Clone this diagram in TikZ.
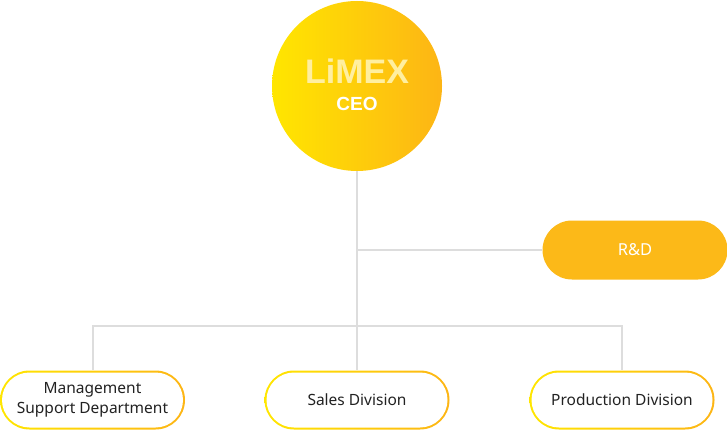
\documentclass[tikz,border=0pt]{standalone}
\usepackage{fontspec}
\setmainfont{Noto Sans}
\newfontfamily\headfont{Liberation Sans}
\usepackage{xcolor}
\usepackage{tikz}
\usetikzlibrary{positioning, calc}
\definecolor{limeyellow}{HTML}{FFE600}
\definecolor{limeorange}{HTML}{FDB515}
\definecolor{rdorange}{HTML}{FCB918}
\definecolor{logocream}{HTML}{FFEFA0}
\definecolor{linkgray}{HTML}{DDDDDD}
\definecolor{textdark}{HTML}{222222}

\begin{document}
\begin{tikzpicture}[x=1pt,y=-1pt,
	head node/.style={circle,minimum size=170pt,inner sep=0pt,left color=limeyellow,right color=limeorange},
	unit node/.style={rectangle,rounded corners=29.5pt,minimum width=185pt,minimum height=59pt,inner sep=0pt,
		align=center,text=textdark,font=\fontsize{15.5}{20}\selectfont,
		path picture={\shade[left color=limeyellow,right color=limeorange] (path picture bounding box.south west) rectangle (path picture bounding box.north east);
			\fill[white,rounded corners=27.5pt] ([shift={(2pt,2pt)}]path picture bounding box.south west) rectangle ([shift={(-2pt,-2pt)}]path picture bounding box.north east);}},
	lab node/.style={rectangle,rounded corners=29.5pt,minimum width=185pt,minimum height=59pt,inner sep=0pt,
		fill=rdorange,text=white,font=\fontsize{16.5}{20}\selectfont},
	link/.style={draw=linkgray,line width=2pt}]
	
	\useasboundingbox (0,0) rectangle (727,430);
	
	\node[head node] (ceo) at (357,86) {};
	\node[font=\headfont\bfseries\fontsize{34}{34}\selectfont,text=logocream,anchor=base,inner sep=0pt] (logo) at (357,84) {LiMEX};
	\node[font=\headfont\bfseries\fontsize{19}{19}\selectfont,text=white,anchor=base,inner sep=0pt] (title) at (357,111) {CEO};
	
	\node[lab node] (rd) at (635,250) {R\&D};
	\node[unit node] (mgmt) at (92.5,400) {Management\\Support Department};
	\node[unit node] (sales) at (357,400) {Sales Division};
	\node[unit node] (prod) at (622,400) {Production Division};
	
	\coordinate (rdjoint) at (357,250);
	\coordinate (fork) at (357,326);
	
	\path[link]
	(ceo.south) edge (fork)
	(rdjoint) edge (rd)
	(fork) edge (sales);
	\draw[link] (mgmt.north) |- (fork) -| (prod.north);
\end{tikzpicture}
\end{document}
